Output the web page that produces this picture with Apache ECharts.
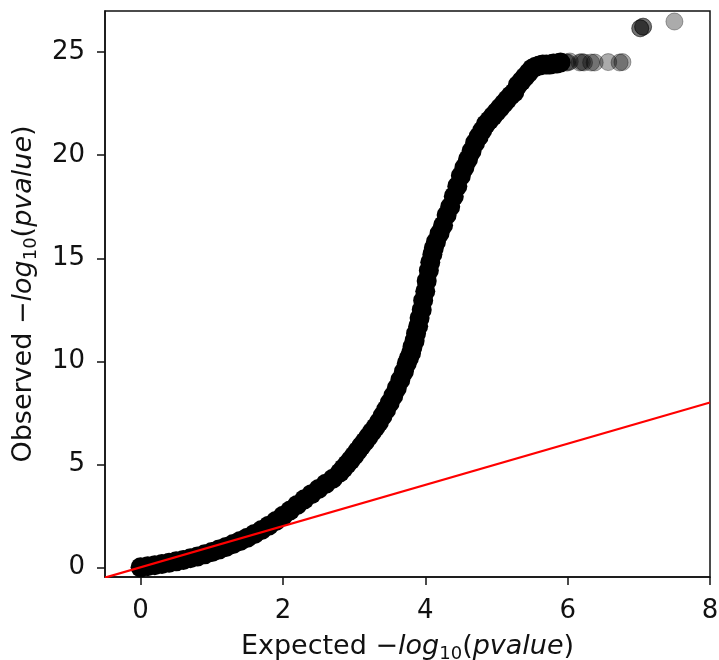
<!DOCTYPE html>
<html>
<head>
<meta charset="utf-8">
<script src="https://cdn.jsdelivr.net/npm/echarts@6/dist/echarts.min.js"></script>
<style>
  html, body { margin: 0; padding: 0; background: #fff; }
  #qq-chart { width: 719px; height: 660px; }
</style>
</head>
<body>
<div id="qq-chart"></div>
<script>
// dense part of the QQ curve (expected vs observed -log10 p)
var expectedBulk = [
  0.0, 0.1, 0.2, 0.3, 0.4, 0.5, 0.6, 0.7, 0.8, 0.9,
  1.0, 1.1, 1.2, 1.3, 1.4, 1.5, 1.6, 1.7, 1.8, 1.9,
  2.0, 2.1, 2.2, 2.3, 2.4, 2.5, 2.6, 2.7, 2.8, 2.85,
  2.9, 2.95, 3.0, 3.05, 3.1, 3.15, 3.2, 3.25, 3.3, 3.35,
  3.4, 3.45, 3.5, 3.55, 3.6, 3.65, 3.7, 3.74, 3.77, 3.8,
  3.82, 3.85, 3.87, 3.9, 3.92, 3.95, 3.97, 4.0, 4.02, 4.05,
  4.07, 4.1, 4.12, 4.15, 4.2, 4.25, 4.3, 4.35, 4.4, 4.45,
  4.5, 4.55, 4.6, 4.65, 4.7, 4.75, 4.8, 4.85, 4.9, 4.95,
  5.0, 5.05, 5.1, 5.15, 5.2, 5.25, 5.3, 5.35, 5.4, 5.45,
  5.5, 5.55, 5.6, 5.65, 5.7, 5.75, 5.8, 5.85, 5.9
];
var observedBulk = [
  0.0, 0.05, 0.1, 0.16, 0.22, 0.29, 0.36, 0.44, 0.53, 0.63,
  0.74, 0.86, 0.99, 1.13, 1.28, 1.44, 1.62, 1.81, 2.02, 2.25,
  2.5, 2.76, 3.03, 3.3, 3.55, 3.8, 4.05, 4.3, 4.6, 4.8,
  5.0, 5.2, 5.42, 5.65, 5.88, 6.1, 6.33, 6.57, 6.8, 7.05,
  7.35, 7.65, 7.98, 8.32, 8.7, 9.1, 9.5, 9.9, 10.15, 10.4,
  10.7, 11.0, 11.35, 11.7, 12.1, 12.5, 12.95, 13.4, 13.9, 14.4,
  14.8, 15.2, 15.5, 15.8, 16.2, 16.6, 17.1, 17.5, 18.0, 18.5,
  19.0, 19.4, 19.8, 20.2, 20.6, 20.9, 21.2, 21.5, 21.7, 21.9,
  22.1, 22.3, 22.5, 22.7, 22.9, 23.05, 23.4, 23.6, 23.8, 24.0,
  24.2, 24.3, 24.35, 24.4, 24.4, 24.4, 24.45, 24.45, 24.5
];
// sparse tail points, drawn translucent
var expectedTail = [5.98, 6.0, 6.03, 6.17, 6.2, 6.23, 6.33, 6.38, 6.57, 6.73, 6.77, 7.02, 7.02, 7.06, 7.06, 7.5];
var observedTail = [24.5, 24.5, 24.55, 24.5, 24.52, 24.5, 24.5, 24.5, 24.52, 24.5, 24.52, 26.16, 26.16, 26.24, 26.24, 26.49];
// y = x reference
var refX = [-0.5, 8];
var refY = [-0.5, 8];
var xTicks = [0, 2, 4, 6, 8];
var yTicks = [0, 5, 10, 15, 20, 25];

function zip (xs, ys) {
  return xs.map(function (x, i) { return [x, ys[i]]; });
}

var font = 'DejaVu Sans';
var ink = '#111';
var nameRich = {
  n: { fontFamily: font, fontSize: 27, color: ink, lineHeight: 32 },
  i: { fontFamily: font, fontSize: 27, fontStyle: 'italic', color: ink, lineHeight: 32 },
  s: { fontFamily: font, fontSize: 18, color: ink, lineHeight: 18, padding: [15, 0, 0, 0], verticalAlign: 'bottom' }
};
var axisName = function (word) {
  return '{n|' + word + ' \u2212}{i|log}{s|10}{n|(}{i|pvalue}{n|)}';
};

var chart = echarts.init(document.getElementById('qq-chart'), null, { renderer: 'canvas' });
chart.setOption({
  animation: false,
  backgroundColor: '#fff',
  grid: {
    left: 105,
    right: 9,
    top: 11,
    bottom: 83,
    outerBoundsMode: 'none',
    show: true,
    borderColor: ink,
    borderWidth: 1.5
  },
  xAxis: {
    type: 'value',
    min: -0.5,
    max: 8,
    name: axisName('Expected'),
    nameLocation: 'middle',
    nameGap: 54,
    nameTextStyle: { rich: nameRich },
    axisLine: { show: true, onZero: false, lineStyle: { color: ink, width: 1.5 } },
    axisTick: { show: true, length: 8, customValues: xTicks, lineStyle: { color: ink, width: 1.5 } },
    axisLabel: { customValues: xTicks, fontFamily: font, fontSize: 26, color: ink, margin: 21 },
    splitLine: { show: false }
  },
  yAxis: {
    type: 'value',
    min: -0.47,
    max: 27,
    name: axisName('Observed'),
    nameLocation: 'middle',
    nameGap: 65,
    nameTextStyle: { rich: nameRich },
    axisLine: { show: true, onZero: false, lineStyle: { color: ink, width: 1.5 } },
    axisTick: { show: true, length: 8, customValues: yTicks, lineStyle: { color: ink, width: 1.5 } },
    axisLabel: { customValues: yTicks, fontFamily: font, fontSize: 26, color: ink, margin: 20 },
    splitLine: { show: false }
  },
  series: [
    {
      name: 'bulk',
      type: 'scatter',
      symbol: 'circle',
      symbolSize: 20,
      itemStyle: { color: '#000', opacity: 1 },
      data: zip(expectedBulk, observedBulk),
      clip: true
    },
    {
      name: 'tail',
      type: 'scatter',
      symbol: 'circle',
      symbolSize: 17,
      itemStyle: { color: '#000', opacity: 0.33, borderColor: '#000', borderWidth: 1 },
      data: zip(expectedTail, observedTail),
      clip: true
    },
    {
      name: 'y = x',
      type: 'line',
      symbol: 'none',
      lineStyle: { color: '#ff0000', width: 2.2 },
      data: zip(refX, refY),
      clip: true,
      z: 5
    }
  ]
});
</script>
</body>
</html>
